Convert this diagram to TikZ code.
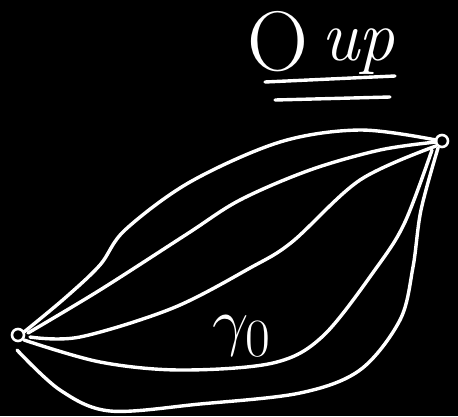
\documentclass[tikz,border=0pt]{standalone}
\begin{document}
\begin{tikzpicture}[x=1pt,y=-1pt,
  stroke/.style={draw=white,line width=3.4pt,line cap=round,line join=round},
  label/.style={text=white,inner sep=0pt,font=\Huge}]
\fill[black] (0,0) rectangle (458,416);
\useasboundingbox (0,0) rectangle (458,416);
\coordinate (L) at (18,335);
\coordinate (R) at (442,141);
% endpoint marks
\draw[stroke,line width=2.6pt] (L) circle (6);
\draw[stroke,line width=2.6pt] (R) circle (6);
% curve A (top)
\draw[stroke] plot[smooth,tension=0.55] coordinates {(24,332) (65,298) (100,265) (125,230) (190,182) (280,142) (360,130) (436,140)};
% curve B
\draw[stroke] plot[smooth,tension=0.55] coordinates {(28,333) (100,290) (187,234) (240,200) (310,170) (380,150) (436,142)};
% curve C
\draw[stroke] plot[smooth,tension=0.55] coordinates {(30,337) (80,337) (173,308) (250,268) (292,242) (360,180) (436,146)};
% curve D (gamma_0)
\draw[stroke] plot[smooth,tension=0.55] coordinates {(24,340) (100,362) (180,370) (273,363) (323,336) (377,267) (405,222) (432,150)};
% curve E (bottom)
\draw[stroke] plot[smooth,tension=0.55] coordinates {(17,350) (60,390) (110,411) (200,404) (300,393) (360,370) (400,320) (413,267) (421,210) (438,148)};
% labels
\node[label,scale=3.4] (O) at (278,42) {O};
\node[label,scale=2.9] (up) at (358,52) {\itshape up};
\node[label,scale=2.6] (g) at (242,336) {$\gamma_0$};
\draw[stroke] (265,82) -- (395,76);
\draw[stroke] (275,100) -- (390,97);
\end{tikzpicture}
\end{document}
